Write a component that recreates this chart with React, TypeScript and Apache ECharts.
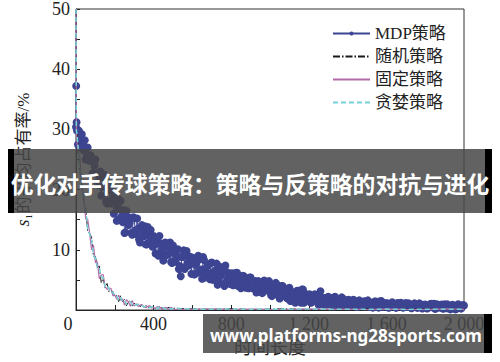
import React, { useEffect, useRef } from 'react';
import * as echarts from 'echarts';

const SERIES_NAMES = ['MDP策略', '随机策略', '固定策略', '贪婪策略'];
const TITLE = '优化对手传球策略：策略与反策略的对抗与进化';
const WATERMARK = 'www.platforms-ng28sports.com';
const X_NAME = '时间长度';
const Y_NAME_REST = '₁的平均占有率/%';

// MDP strategy: values at time steps 0, 10, 20, ..., 2000
const MDP_STEP = 10;
const mdpY = [
  30.4, 27.5, 28.6, 29.2, 26.5, 25.0, 27.0, 24.8, 25.2, 22.7,
  25.0, 21.3, 22.0, 19.0, 22.1, 20.7, 17.7, 21.1, 17.7, 18.7,
  18.6, 14.8, 16.8, 18.1, 14.6, 12.8, 16.5, 14.1, 15.3, 12.5,
  15.3, 12.6, 13.5, 11.2, 14.1, 13.1, 10.9, 13.8, 11.3, 12.2,
  12.3, 9.4, 11.1, 12.3, 9.5, 8.2, 11.2, 9.2, 10.4, 8.0,
  10.7, 8.0, 9.0, 6.8, 5.6, 8.8, 6.8, 9.8, 7.4, 8.4,
  8.7, 5.9, 7.8, 9.0, 6.4, 5.2, 8.3, 6.3, 7.5, 5.1,
  7.9, 5.3, 6.3, 4.2, 7.2, 6.3, 4.3, 7.4, 5.0, 6.1,
  6.0, 4.1, 5.3, 6.2, 4.4, 3.6, 5.7, 4.4, 5.1, 3.6,
  5.4, 3.6, 4.2, 2.9, 4.8, 4.3, 2.8, 4.9, 3.3, 4.6,
  4.2, 2.3, 3.5, 4.5, 2.7, 1.9, 4.0, 2.7, 3.4, 1.9,
  3.7, 1.9, 2.6, 1.2, 3.2, 2.7, 1.2, 3.4, 1.7, 2.6,
  2.5, 1.2, 2.1, 2.6, 1.5, 0.9, 3.1, 1.4, 2.0, 0.9,
  2.2, 1.1, 1.5, 0.6, 2.0, 1.6, 0.7, 2.1, 1.0, 1.5,
  1.6, 0.6, 1.3, 1.7, 0.9, 0.5, 1.6, 0.9, 1.3, 0.6,
  1.5, 0.7, 1.0, 0.4, 1.4, 1.1, 0.4, 1.5, 0.7, 1.1,
  1.1, 0.4, 0.9, 1.3, 0.6, 0.35, 1.15, 0.7, 1.0, 0.45,
  1.15, 0.5, 0.8, 0.3, 1.0, 0.85, 0.35, 1.1, 0.55, 0.85,
  0.9, 0.25, 0.7, 1.05, 0.45, 0.2, 0.95, 0.5, 0.8, 0.25,
  0.95, 0.3, 0.6, 0.1, 0.85, 0.65, 0.15, 0.95, 0.35, 0.7,
  0.75,
];
// MDP strategy: values at the in-between time steps 5, 15, ..., 1995
const mdpYMid = [
  28.8, 29.8, 27.0, 27.7, 28.2, 25.4, 25.3, 25.7, 22.7, 24.0,
  22.7, 20.8, 23.0, 20.5, 22.5, 18.0, 19.9, 18.0, 19.9, 16.0,
  17.5, 18.6, 15.1, 15.5, 16.6, 12.9, 15.5, 14.4, 12.8, 15.4,
  13.2, 15.2, 11.7, 13.4, 12.2, 13.9, 10.9, 12.3, 13.3, 10.5,
  10.9, 11.9, 9.0, 11.1, 10.1, 8.8, 11.0, 9.2, 11.2, 7.8,
  9.5, 8.3, 10.1, 7.3, 8.8, 9.9, 7.2, 7.8, 8.9, 6.0,
  8.3, 7.5, 6.2, 8.4, 6.7, 8.8, 5.4, 7.2, 6.0, 7.8,
  5.0, 6.5, 7.7, 5.1, 5.7, 6.8, 4.0, 6.3, 5.5, 4.3,
  6.1, 4.9, 6.2, 4.0, 5.2, 4.4, 5.6, 3.7, 4.7, 5.4,
  3.7, 4.0, 4.8, 3.0, 4.4, 3.9, 3.0, 4.5, 3.4, 4.8,
  2.5, 3.7, 2.9, 4.2, 2.3, 3.3, 4.0, 2.3, 2.6, 3.4,
  1.5, 3.0, 2.5, 1.7, 3.2, 2.0, 3.4, 1.2, 2.5, 1.7,
  2.6, 1.3, 2.0, 2.5, 1.4, 1.6, 2.1, 0.9, 1.9, 1.5,
  1.0, 2.0, 1.2, 2.2, 0.7, 1.6, 1.1, 1.9, 0.7, 1.4,
  1.7, 0.9, 1.1, 1.5, 0.6, 1.3, 1.1, 0.7, 1.45, 0.9,
  1.6, 0.5, 1.15, 0.75, 1.4, 0.5, 1.0, 1.45, 0.55, 0.8,
  1.1, 0.43, 1.0, 0.8, 0.53, 1.1, 0.7, 1.2, 0.4, 0.9,
  0.6, 1.1, 0.4, 0.8, 1.1, 0.46, 0.63, 0.94, 0.26, 0.83,
  0.64, 0.36, 0.94, 0.52, 1.05, 0.23, 0.72, 0.43, 0.92, 0.23,
  0.63, 0.94, 0.3, 0.48, 0.79, 0.11, 0.69, 0.5, 0.23, 0.82,
];
const mdpHeadX = [1, 3, 5];
const mdpHeadY = [37.2, 31.2, 29.8];

// Random / fixed / greedy strategies
const fastX = [
  0, 2, 10, 20, 30, 40, 50, 60, 70, 80, 90, 100, 110, 120, 130, 140, 150, 160, 170, 180, 190,
  200, 210, 220, 230, 240, 250, 260, 270, 280, 290, 300, 310, 320, 330, 340, 350, 360, 370, 380, 390,
  400, 410, 420, 430, 440, 450, 460, 470, 480, 490, 500,
  600, 700, 800, 900, 1000, 1100, 1200, 1300, 1400, 1500, 1600, 1700, 1800, 1900, 2000,
];
const randomY = [
  50, 30.5, 27.8, 22.8, 22.0, 17.6, 17.1, 13.1, 12.7, 12.1, 8.9, 8.9, 7.1, 7.3, 4.5, 5.3, 3.7, 4.4, 3.0, 3.1, 3.1,
  2.2, 2.45, 1.4, 2.35, 1.4, 1.8, 0.7, 1.3, 1.6, 0.65, 1.15, 0.8, 1.0, 0.55, 0.8, 0.5, 0.8, 0.32, 0.5, 0.58,
  0.3, 0.5, 0.16, 0.59, 0.24, 0.48, 0.05, 0.31, 0.46, 0.07, 0.3,
  0.18, 0.1, 0.22, 0.08, 0.15, 0.2, 0.06, 0.14, 0.1, 0.18, 0.05, 0.12, 0.16, 0.07, 0.1,
];
const fixedY = [
  50, 29.5, 26.1, 25.4, 20.2, 18.8, 15.1, 15.1, 12.9, 10.0, 10.8, 7.9, 8.0, 5.2, 5.8, 5.9, 3.9, 3.4, 3.6, 3.6, 2.4,
  2.5, 1.8, 2.45, 1.6, 1.85, 0.8, 1.7, 1.4, 0.6, 1.6, 0.65, 1.0, 0.58, 0.8, 0.9, 0.52, 0.37, 0.6, 0.72, 0.31,
  0.43, 0.23, 0.58, 0.29, 0.44, 0.08, 0.45, 0.34, 0.06, 0.47, 0.1,
  0.12, 0.2, 0.06, 0.17, 0.1, 0.05, 0.19, 0.09, 0.15, 0.06, 0.16, 0.1, 0.07, 0.18, 0.12,
];
const greedyY = [
  50, 30, 27.5, 23.3, 21.4, 17.7, 16.8, 13.6, 12.6, 11.6, 9.1, 8.6, 6.9, 7.0, 5.5, 5.4, 3.7, 3.9, 3.6, 2.8, 3.0,
  2.3, 2.3, 1.6, 2.1, 1.45, 1.65, 0.95, 1.25, 1.4, 0.8, 1.0, 0.77, 0.95, 0.72, 0.8, 0.48, 0.6, 0.58, 0.37, 0.55,
  0.35, 0.46, 0.24, 0.49, 0.26, 0.4, 0.13, 0.29, 0.36, 0.12, 0.25,
  0.15, 0.12, 0.18, 0.1, 0.14, 0.12, 0.16, 0.1, 0.13, 0.11, 0.15, 0.1, 0.12, 0.14, 0.11,
];

const SERIF = '"Liberation Serif", "Times New Roman", "Noto Sans CJK SC", serif';
const SANS_CJK = '"Noto Sans CJK SC", "Noto Sans", sans-serif';

const MDP_COLOR = '#3d4592';
const RANDOM_COLOR = '#1a1a1a';
const FIXED_COLOR = '#b46aa8';
const GREEDY_COLOR = '#74d2d4';

function buildMdp(): number[][] {
  const out: number[][] = [[0, mdpY[0]]];
  mdpHeadX.forEach((x, i) => out.push([x, mdpHeadY[i]]));
  for (let i = 0; i < mdpY.length; i++) {
    if (i > 0) out.push([i * MDP_STEP, mdpY[i]]);
    if (i > 0 && i < mdpYMid.length) out.push([i * MDP_STEP + MDP_STEP / 2, mdpYMid[i]]);
  }
  return out;
}

function pair(ys: number[]): number[][] {
  return fastX.map((x, i) => [x, ys[i]]);
}

function fmtX(v: number): string {
  if (v % 400 !== 0) return '';
  if (v === 0) return '{z|0}';
  if (v >= 1000) {
    const th = Math.floor(v / 1000);
    const rest = String(v % 1000).padStart(3, '0');
    return th + ' ' + rest;
  }
  return String(v);
}

export default function App() {
  const ref = useRef<HTMLDivElement>(null);
  useEffect(() => {
    document.body.style.margin = '0';
    const chart = echarts.init(ref.current!, undefined, { renderer: 'svg' });
    const option: any = {
      animation: false,
      backgroundColor: '#fff',
      grid: {
        left: 76,
        right: 36,
        top: 9,
        bottom: 50,
        show: true,
        borderColor: '#333',
        borderWidth: 1,
        backgroundColor: 'transparent',
      },
      legend: {
        orient: 'vertical',
        left: 327,
        top: 20,
        itemWidth: 37,
        itemHeight: 5,
        itemGap: 6,
        textStyle: { fontSize: 17, fontFamily: SERIF, color: '#222' },
        data: SERIES_NAMES,
      },
      xAxis: {
        type: 'value',
        min: 0,
        max: 2000,
        interval: 200,
        axisLine: { lineStyle: { color: '#222', width: 1 } },
        axisTick: { inside: true, length: 5, lineStyle: { color: '#222' } },
        axisLabel: {
          margin: 5,
          fontSize: 18,
          fontFamily: SERIF,
          color: '#222',
          formatter: fmtX,
          rich: {
            z: { fontSize: 18, fontFamily: SERIF, color: '#222', padding: [0, 16, 0, 0] },
          },
        },
        splitLine: { show: false },
        name: X_NAME,
        nameLocation: 'middle',
        nameGap: 29,
        nameTextStyle: { fontSize: 18, fontFamily: SERIF, color: '#222' },
      },
      yAxis: {
        type: 'value',
        min: 0,
        max: 50,
        interval: 10,
        axisLine: { show: true, lineStyle: { color: '#222', width: 1 } },
        axisTick: { show: true, inside: true, length: 4, lineStyle: { color: '#222' } },
        minorTick: { show: true, splitNumber: 2, length: 4, lineStyle: { color: '#222' } },
        axisLabel: {
          margin: 6,
          fontSize: 18,
          fontFamily: SERIF,
          color: '#222',
          formatter: (v: number) => (v === 0 ? '' : String(v)),
        },
        splitLine: { show: false },
        name: '{i|s}' + Y_NAME_REST,
        nameLocation: 'middle',
        nameGap: 44,
        nameRotate: 90,
        nameTextStyle: {
          fontSize: 17,
          fontFamily: SERIF,
          color: '#222',
          rich: { i: { fontSize: 18, fontStyle: 'italic', fontFamily: SERIF, color: '#222' } },
        },
      },
      series: [
        {
          name: SERIES_NAMES[0],
          type: 'line',
          data: buildMdp(),
          symbol: 'circle',
          symbolSize: 8,
          showSymbol: true,
          lineStyle: { color: MDP_COLOR, width: 1 },
          itemStyle: { color: MDP_COLOR },
          z: 2,
        },
        {
          name: SERIES_NAMES[1],
          type: 'line',
          data: pair(randomY),
          symbol: 'none',
          lineStyle: { color: RANDOM_COLOR, width: 1, type: [7, 2, 1.5, 2] },
          itemStyle: { color: RANDOM_COLOR, opacity: 0 },
          z: 3,
        },
        {
          name: SERIES_NAMES[2],
          type: 'line',
          data: pair(fixedY),
          symbol: 'none',
          lineStyle: { color: FIXED_COLOR, width: 1.2 },
          itemStyle: { color: FIXED_COLOR, opacity: 0 },
          z: 4,
        },
        {
          name: SERIES_NAMES[3],
          type: 'line',
          data: pair(greedyY),
          symbol: 'none',
          lineStyle: { color: GREEDY_COLOR, width: 1.5, type: [5, 3] },
          itemStyle: { color: GREEDY_COLOR, opacity: 0 },
          z: 5,
        },
      ],
      graphic: [
        { type: 'rect', z: 100, shape: { x: 8, y: 149, width: 484, height: 64 }, style: { fill: 'rgba(70,70,70,0.85)' } },
        { type: 'rect', z: 101, shape: { x: 8, y: 149, width: 6, height: 64 }, style: { fill: '#000' } },
        { type: 'rect', z: 101, shape: { x: 485, y: 149, width: 7, height: 64 }, style: { fill: '#000' } },
        {
          type: 'text', z: 102, x: 250, y: 183,
          style: { text: TITLE, fill: '#fff', fontSize: 22.8, fontWeight: 'bold', fontFamily: SANS_CJK, align: 'center', verticalAlign: 'middle' },
        },
        { type: 'rect', z: 100, shape: { x: 203, y: 314, width: 289, height: 39 }, style: { fill: 'rgba(70,70,70,0.85)' } },
        { type: 'rect', z: 101, shape: { x: 484, y: 314, width: 8, height: 39 }, style: { fill: '#000' } },
        {
          type: 'text', z: 102, x: 346, y: 335,
          style: { text: WATERMARK, fill: '#fff', fontSize: 17, fontWeight: 'bold', fontFamily: '"Noto Sans", "Open Sans", sans-serif', align: 'center', verticalAlign: 'middle' },
        },
      ],
    };
    chart.setOption(option);
    return () => chart.dispose();
  }, []);
  return <div ref={ref} style={{ width: 500, height: 362 }} />;
}
